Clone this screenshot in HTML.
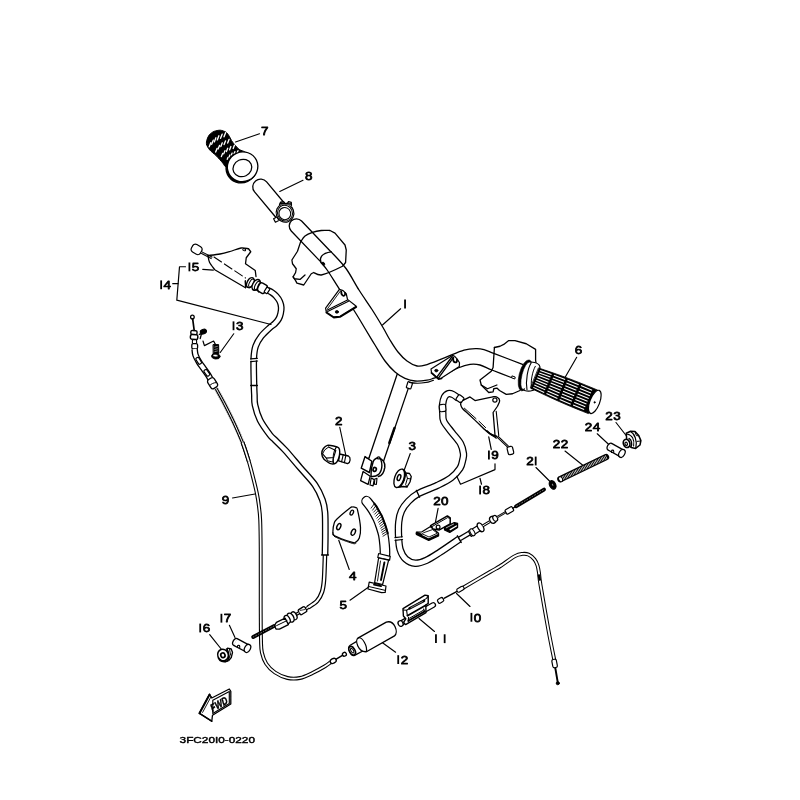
<!DOCTYPE html>
<html><head><meta charset="utf-8"><title>diagram</title>
<style>
html,body{margin:0;padding:0;background:#fff;}
svg{display:block;}
text{font-family:"Liberation Sans",sans-serif;fill:#000;}
.lb{stroke:#000;stroke-width:0.75px;}
</style></head><body>
<svg width="800" height="800" viewBox="0 0 800 800">
<rect width="800" height="800" fill="#fff"/>
<g stroke-linejoin="round" stroke-linecap="round" style="filter:url(#bl)">
<path d="M216.25,388.75 C217.5,391.04 220.83,396.88 223.75,402.5 C226.67,408.12 230.62,415.83 233.75,422.5 C236.88,429.17 240,436.04 242.5,442.5 C245,448.96 246.88,455 248.75,461.25 C250.62,467.5 252.38,474.54 253.75,480 C255.12,485.46 256.17,489.83 257,494 C257.83,498.17 258.22,500.67 258.75,505 C259.28,509.33 259.88,512.5 260.2,520 C260.52,527.5 260.62,535.83 260.7,550 C260.78,564.17 260.65,590 260.7,605 C260.75,620 260.8,632.08 261,640 C261.2,647.92 261.02,648.54 261.9,652.5 C262.77,656.46 264.07,660.42 266.25,663.75 C268.43,667.08 271.46,670.12 275,672.5 C278.54,674.88 283.33,677.08 287.5,678 C291.67,678.92 295.83,678.83 300,678 C304.17,677.17 308.33,674.96 312.5,673 C316.67,671.04 322,668.03 325,666.25 C328,664.47 329.58,662.96 330.5,662.3" fill="none" stroke="#000" stroke-width="3.9" stroke-linecap="butt"/>
<path d="M216.25,388.75 C217.5,391.04 220.83,396.88 223.75,402.5 C226.67,408.12 230.62,415.83 233.75,422.5 C236.88,429.17 240,436.04 242.5,442.5 C245,448.96 246.88,455 248.75,461.25 C250.62,467.5 252.38,474.54 253.75,480 C255.12,485.46 256.17,489.83 257,494 C257.83,498.17 258.22,500.67 258.75,505 C259.28,509.33 259.88,512.5 260.2,520 C260.52,527.5 260.62,535.83 260.7,550 C260.78,564.17 260.65,590 260.7,605 C260.75,620 260.8,632.08 261,640 C261.2,647.92 261.02,648.54 261.9,652.5 C262.77,656.46 264.07,660.42 266.25,663.75 C268.43,667.08 271.46,670.12 275,672.5 C278.54,674.88 283.33,677.08 287.5,678 C291.67,678.92 295.83,678.83 300,678 C304.17,677.17 308.33,674.96 312.5,673 C316.67,671.04 322,668.03 325,666.25 C328,664.47 329.58,662.96 330.5,662.3" fill="none" stroke="#fff" stroke-width="1.7" stroke-linecap="butt"/>
<path d="M216.25,388.75 C217.5,391.04 220.83,396.88 223.75,402.5 C226.67,408.12 230.62,415.83 233.75,422.5 C236.88,429.17 240,436.04 242.5,442.5 C245,448.96 247.71,458.12 248.75,461.25" fill="none" stroke="#000" stroke-width="3.9" stroke-linecap="butt"/>
<path d="M216.25,388.75 C217.5,391.04 220.83,396.88 223.75,402.5 C226.67,408.12 230.62,415.83 233.75,422.5 C236.88,429.17 240,436.04 242.5,442.5 C245,448.96 247.71,458.12 248.75,461.25" fill="none" stroke="#fff" stroke-width="1.7" stroke-linecap="butt"/>
<path d="M216.25,388.75 C217.5,391.04 220.83,396.88 223.75,402.5 C226.67,408.12 230.62,415.83 233.75,422.5 C236.88,429.17 241.04,439.17 242.5,442.5" fill="none" stroke="#fff" stroke-width="4.6" stroke-linecap="butt"/>
<path d="M216.25,388.75 C217.5,391.04 220.83,396.88 223.75,402.5 C226.67,408.12 230.62,415.83 233.75,422.5 C236.88,429.17 241.04,439.17 242.5,442.5" fill="none" stroke="#000" stroke-width="3.2" stroke-linecap="butt"/>
<path d="M216.25,388.75 C217.5,391.04 220.83,396.88 223.75,402.5 C226.67,408.12 230.62,415.83 233.75,422.5 C236.88,429.17 241.04,439.17 242.5,442.5" fill="none" stroke="#fff" stroke-width="1" stroke-linecap="butt"/>
<path d="M266.9,290 C267.75,290.43 270.44,291.56 272,292.6 C273.56,293.64 274.95,294.77 276.25,296.25 C277.55,297.73 278.97,299.62 279.8,301.5 C280.63,303.38 281.12,305.5 281.25,307.5 C281.38,309.5 281.02,311.62 280.6,313.5 C280.18,315.38 279.68,317.08 278.75,318.75 C277.82,320.42 276.46,322.04 275,323.5 C273.54,324.96 272.29,325.38 270,327.5 C267.71,329.62 263.65,333.12 261.25,336.25 C258.85,339.38 256.85,342.5 255.6,346.25 C254.35,350 254.02,352.29 253.75,358.75 C253.48,365.21 253.89,378.96 254,385 C254.11,391.04 254.23,391.67 254.4,395 C254.57,398.33 254.07,400.83 255,405 C255.93,409.17 257.5,415 260,420 C262.5,425 267.5,431.67 270,435 C272.5,438.33 272.5,437.5 275,440 C277.5,442.5 280.83,445.42 285,450 C289.17,454.58 295,461.67 300,467.5 C305,473.33 311.25,479.58 315,485 C318.75,490.42 320.83,495.42 322.5,500 C324.17,504.58 324.53,506.67 325,512.5 C325.47,518.33 325.3,527.92 325.3,535 C325.3,542.08 325.05,551.67 325,555" fill="none" stroke="#000" stroke-width="6.8" stroke-linecap="butt"/>
<path d="M266.9,290 C267.75,290.43 270.44,291.56 272,292.6 C273.56,293.64 274.95,294.77 276.25,296.25 C277.55,297.73 278.97,299.62 279.8,301.5 C280.63,303.38 281.12,305.5 281.25,307.5 C281.38,309.5 281.02,311.62 280.6,313.5 C280.18,315.38 279.68,317.08 278.75,318.75 C277.82,320.42 276.46,322.04 275,323.5 C273.54,324.96 272.29,325.38 270,327.5 C267.71,329.62 263.65,333.12 261.25,336.25 C258.85,339.38 256.85,342.5 255.6,346.25 C254.35,350 254.02,352.29 253.75,358.75 C253.48,365.21 253.89,378.96 254,385 C254.11,391.04 254.23,391.67 254.4,395 C254.57,398.33 254.07,400.83 255,405 C255.93,409.17 257.5,415 260,420 C262.5,425 267.5,431.67 270,435 C272.5,438.33 272.5,437.5 275,440 C277.5,442.5 280.83,445.42 285,450 C289.17,454.58 295,461.67 300,467.5 C305,473.33 311.25,479.58 315,485 C318.75,490.42 320.83,495.42 322.5,500 C324.17,504.58 324.53,506.67 325,512.5 C325.47,518.33 325.3,527.92 325.3,535 C325.3,542.08 325.05,551.67 325,555" fill="none" stroke="#fff" stroke-width="4.2" stroke-linecap="butt"/>
<path d="M250,360.2 L258,359.6" fill="none" stroke="#fff" stroke-width="1.3" />
<line x1="250.6" y1="358.9" x2="257.4" y2="358.4" stroke="#000" stroke-width="1.1"/>
<line x1="250.8" y1="361.6" x2="257.6" y2="361" stroke="#000" stroke-width="1.1"/>
<line x1="250.7" y1="385.5" x2="257.4" y2="385.5" stroke="#000" stroke-width="1.3"/>
<path d="M325,555 C324.83,559.17 324.5,573.83 324,580 C323.5,586.17 323.17,588.5 322,592 C320.83,595.5 319.33,598.42 317,601 C314.67,603.58 309.5,606.42 308,607.5" fill="none" stroke="#000" stroke-width="4.6" stroke-linecap="butt"/>
<path d="M325,555 C324.83,559.17 324.5,573.83 324,580 C323.5,586.17 323.17,588.5 322,592 C320.83,595.5 319.33,598.42 317,601 C314.67,603.58 309.5,606.42 308,607.5" fill="none" stroke="#fff" stroke-width="2.2" stroke-linecap="butt"/>
<line x1="321.6" y1="555" x2="328.4" y2="555" stroke="#000" stroke-width="1.4"/>
<path d="M458.5,398.3 C457.58,397.67 454.67,395.28 453,394.5 C451.33,393.72 449.92,393.18 448.5,393.6 C447.08,394.02 445.5,395.1 444.5,397 C443.5,398.9 442.78,402.33 442.5,405 C442.22,407.67 442.59,410.29 442.8,413 C443.01,415.71 442.23,418 443.75,421.25 C445.27,424.5 449.09,428.75 451.9,432.5 C454.71,436.25 458.67,440.21 460.6,443.75 C462.53,447.29 463.15,451.04 463.5,453.75 C463.85,456.46 463.28,457.58 462.7,460 C462.12,462.42 461.95,465.27 460,468.25 C458.05,471.23 454.78,475.04 451,477.9 C447.22,480.76 442.8,482.77 437.3,485.4 C431.8,488.03 422.82,491.05 418,493.7 C413.18,496.35 411.15,498.43 408.4,501.3 C405.65,504.17 403.11,507.47 401.5,510.9 C399.89,514.33 399.23,517.55 398.75,521.9 C398.27,526.25 398.38,532.42 398.6,537 C398.83,541.58 398.93,545.73 400.1,549.4 C401.27,553.07 403.08,556.7 405.6,559 C408.12,561.3 411.81,562.97 415.25,563.2 C418.69,563.43 422.12,562.23 426.25,560.4 C430.38,558.57 434.5,555.75 440,552.2 C445.5,548.65 456.04,541.28 459.25,539.1" fill="none" stroke="#000" stroke-width="7.4" stroke-linecap="butt"/>
<path d="M458.5,398.3 C457.58,397.67 454.67,395.28 453,394.5 C451.33,393.72 449.92,393.18 448.5,393.6 C447.08,394.02 445.5,395.1 444.5,397 C443.5,398.9 442.78,402.33 442.5,405 C442.22,407.67 442.59,410.29 442.8,413 C443.01,415.71 442.23,418 443.75,421.25 C445.27,424.5 449.09,428.75 451.9,432.5 C454.71,436.25 458.67,440.21 460.6,443.75 C462.53,447.29 463.15,451.04 463.5,453.75 C463.85,456.46 463.28,457.58 462.7,460 C462.12,462.42 461.95,465.27 460,468.25 C458.05,471.23 454.78,475.04 451,477.9 C447.22,480.76 442.8,482.77 437.3,485.4 C431.8,488.03 422.82,491.05 418,493.7 C413.18,496.35 411.15,498.43 408.4,501.3 C405.65,504.17 403.11,507.47 401.5,510.9 C399.89,514.33 399.23,517.55 398.75,521.9 C398.27,526.25 398.38,532.42 398.6,537 C398.83,541.58 398.93,545.73 400.1,549.4 C401.27,553.07 403.08,556.7 405.6,559 C408.12,561.3 411.81,562.97 415.25,563.2 C418.69,563.43 422.12,562.23 426.25,560.4 C430.38,558.57 434.5,555.75 440,552.2 C445.5,548.65 456.04,541.28 459.25,539.1" fill="none" stroke="#fff" stroke-width="4.9" stroke-linecap="butt"/>
<line x1="416.4" y1="490.4" x2="419.6" y2="497.2" stroke="#000" stroke-width="1.3"/>
<path d="M394,539 L403.4,538" fill="none" stroke="#fff" stroke-width="1.5" />
<line x1="394.9" y1="537.6" x2="402.4" y2="536.8" stroke="#000" stroke-width="1.1"/>
<line x1="395" y1="540.4" x2="402.6" y2="539.5" stroke="#000" stroke-width="1.1"/>
<path d="M461,589 C465.83,586.17 483.5,575.79 490,572 C496.5,568.21 495.83,568.9 500,566.25 C504.17,563.6 511.25,558.16 515,556.1 C518.75,554.04 520.25,554.15 522.5,553.9 C524.75,553.65 526.5,553.67 528.5,554.6 C530.5,555.53 533,557.68 534.5,559.5 C536,561.32 536.75,563.25 537.5,565.5 C538.25,567.75 538.5,569.75 539,573 C539.5,576.25 538.93,575.5 540.5,585 C542.07,594.5 546.15,617.75 548.4,630 C550.65,642.25 552.97,653.33 554,658.5 C555.03,663.67 554.5,660.58 554.6,661" fill="none" stroke="#000" stroke-width="3.9" stroke-linecap="butt"/>
<path d="M461,589 C465.83,586.17 483.5,575.79 490,572 C496.5,568.21 495.83,568.9 500,566.25 C504.17,563.6 511.25,558.16 515,556.1 C518.75,554.04 520.25,554.15 522.5,553.9 C524.75,553.65 526.5,553.67 528.5,554.6 C530.5,555.53 533,557.68 534.5,559.5 C536,561.32 536.75,563.25 537.5,565.5 C538.25,567.75 538.5,569.75 539,573 C539.5,576.25 538.93,575.5 540.5,585 C542.07,594.5 546.15,617.75 548.4,630 C550.65,642.25 552.97,653.33 554,658.5 C555.03,663.67 554.5,660.58 554.6,661" fill="none" stroke="#fff" stroke-width="1.8" stroke-linecap="butt"/>
<path d="M296.4,226 L325.2,256.2" fill="none" stroke="#000" stroke-width="15.6" stroke-linecap="round"/>
<path d="M296.4,226 L325.2,256.2" fill="none" stroke="#fff" stroke-width="13" stroke-linecap="round"/>
<line x1="397.4" y1="373.5" x2="368.3" y2="460" stroke="#000" stroke-width="1.3"/>
<line x1="408.2" y1="388.6" x2="383.1" y2="462.5" stroke="#000" stroke-width="1.3"/>
<line x1="394.5" y1="428" x2="389.3" y2="443" stroke="#000" stroke-width="2.4"/>
<path d="M321,262.5 C319.2,258.6 321,253.2 331.25,251.9 C333.71,254.67 341.38,262.15 346,268.5 C350.62,274.85 354.67,283.17 359,290 C363.33,296.83 368,303.25 372,309.5 C376,315.75 380,322.42 383,327.5 C386,332.58 387.5,335.92 390,340 C392.5,344.08 395.17,348.5 398,352 C400.83,355.5 403.83,358.67 407,361 C410.17,363.33 414,365.3 417,366 C420,366.7 420.33,366.6 425,365.2 C429.67,363.8 438.5,360.1 445,357.6 C451.5,355.1 458.83,351.7 464,350.2 C469.17,348.7 472.67,348.7 476,348.6 C479.33,348.5 480.93,348.77 484,349.6 C487.07,350.43 487.98,351.13 494.4,353.6 C500.82,356.07 517.82,362.6 522.5,364.4 L511.25,377.5  C508.02,376.25 497.11,372.08 491.9,370 C486.69,367.92 483.65,365.93 480,365 C476.35,364.07 473.67,363.9 470,364.4 C466.33,364.9 462.17,366.3 458,368 C453.83,369.7 449,372.9 445,374.6 C441,376.3 437,377.27 434,378.2 C431,379.13 430.17,379.73 427,380.2 C423.83,380.67 418.67,381.32 415,381 C411.33,380.68 408.33,379.8 405,378.3 C401.67,376.8 398.33,374.88 395,372 C391.67,369.12 388.33,365.5 385,361 C381.67,356.5 378.33,350.42 375,345 C371.67,339.58 368.54,334.33 365,328.5 C361.46,322.67 357.92,316.42 353.75,310 C349.58,303.58 344.38,296.58 340,290 C335.62,283.42 330.67,275.08 327.5,270.5 C324.33,265.92 322.08,263.83 321,262.5Z" fill="#fff" stroke="none"/>
<path d="M331.25,251.9 C333.71,254.67 341.38,262.15 346,268.5 C350.62,274.85 354.67,283.17 359,290 C363.33,296.83 368,303.25 372,309.5 C376,315.75 380,322.42 383,327.5 C386,332.58 387.5,335.92 390,340 C392.5,344.08 395.17,348.5 398,352 C400.83,355.5 403.83,358.67 407,361 C410.17,363.33 414,365.3 417,366 C420,366.7 420.33,366.6 425,365.2 C429.67,363.8 438.5,360.1 445,357.6 C451.5,355.1 458.83,351.7 464,350.2 C469.17,348.7 472.67,348.7 476,348.6 C479.33,348.5 480.93,348.77 484,349.6 C487.07,350.43 487.98,351.13 494.4,353.6 C500.82,356.07 517.82,362.6 522.5,364.4" fill="none" stroke="#000" stroke-width="1.3" />
<path d="M321,262.5 C322.08,263.83 324.33,265.92 327.5,270.5 C330.67,275.08 335.62,283.42 340,290 C344.38,296.58 349.58,303.58 353.75,310 C357.92,316.42 361.46,322.67 365,328.5 C368.54,334.33 371.67,339.58 375,345 C378.33,350.42 381.67,356.5 385,361 C388.33,365.5 391.67,369.12 395,372 C398.33,374.88 401.67,376.8 405,378.3 C408.33,379.8 411.33,380.68 415,381 C418.67,381.32 423.83,380.67 427,380.2 C430.17,379.73 431,379.13 434,378.2 C437,377.27 441,376.3 445,374.6 C449,372.9 453.83,369.7 458,368 C462.17,366.3 466.33,364.9 470,364.4 C473.67,363.9 476.35,364.07 480,365 C483.65,365.93 486.69,367.92 491.9,370 C497.11,372.08 508.02,376.25 511.25,377.5" fill="none" stroke="#000" stroke-width="1.3" />
<path d="M321,262.5 C319.2,258.6 321,253.2 331.25,251.9" fill="none" stroke="#000" stroke-width="1.3" />
<rect x="-2.4" y="-3.2" width="4.8" height="6.4" rx="0.8" transform="translate(409.4,385.3) rotate(18)" fill="#fff" stroke="#000" stroke-width="1.2"/>
<path d="M409.5,382.4 C416,383.9 427,383.4 433.5,380.2" fill="none" stroke="#000" stroke-width="1.1" />
<path d="M300.6,241.9 C301.33,240.92 303.02,237.6 305,236 C306.98,234.4 309.79,233.22 312.5,232.3 C315.21,231.38 318.33,230.8 321.25,230.5 C324.17,230.2 328.54,230.5 330,230.5 L335,233.1 L345,245 L346.25,250 L345.6,262.5 L342.5,266.25 C338,268.5 328,273.5 321.25,275 C318,275.2 315.5,273.5 313.75,272.5 L311.25,273.75 L303.75,285 L296.9,283.1 L295.6,280.6 L293.1,276.9" fill="none" stroke="#000" stroke-width="1.3" />
<path d="M300.6,241.9 L297.5,251.25 L291.9,260 L292.5,263.75 L296.25,268.75 L295.6,272.5 L293.1,276.9 L294.4,278.75 L300,279.4 L305,275" fill="none" stroke="#000" stroke-width="1.3" />
<ellipse cx="323.3" cy="263.8" rx="1.2" ry="1.8" transform="rotate(-35 323.3 263.8)" fill="#000" stroke="#000" stroke-width="0.8"/>
<path d="M339.4,289.4 L325.6,308.1 L326.25,311.9 L333.75,316.9 L340,316.25 L356.25,306.25 L347.5,299.4 L346.25,293.75 L343.1,290.6Z" fill="#fff" stroke="#000" stroke-width="1.2" />
<path d="M326.9,310.2 L347.5,300" fill="none" stroke="#000" stroke-width="1.2" />
<path d="M327.6,311.6 L348.5,301.3" fill="none" stroke="#000" stroke-width="1.1" />
<path d="M340.6,290.8 L327.6,308.6" fill="none" stroke="#000" stroke-width="0.9" />
<path d="M326.25,312.6 L333.75,317.6 L340,317 L356.4,307" fill="none" stroke="#000" stroke-width="1.6" />
<ellipse cx="336.9" cy="311.9" rx="1.6" ry="1.3" transform="rotate(0 336.9 311.9)" fill="#000" stroke="#000" stroke-width="0.8"/>
<path d="M341.2,291.6 C341.2,297 346,297 345,292.8" fill="none" stroke="#000" stroke-width="1.8" />
<path d="M452.7,355.2 L431,369 L431.5,372.5 L438.5,378.6 L441.5,378 L459.3,366.5 L459.5,362.8 L457,358.8 L454.5,356.2Z" fill="#fff" stroke="#000" stroke-width="1.2" />
<path d="M436.8,377.2 L452.2,356.5" fill="none" stroke="#000" stroke-width="1.35" />
<path d="M438.4,378.1 L453.6,357.4" fill="none" stroke="#000" stroke-width="1.35" />
<ellipse cx="436.3" cy="370.6" rx="1.6" ry="1.3" transform="rotate(0 436.3 370.6)" fill="#000" stroke="#000" stroke-width="0.8"/>
<path d="M453.2,357.6 C452.6,363.6 457.6,363.6 457,359.6" fill="none" stroke="#000" stroke-width="1.9" />
<path d="M431.3,373 L438.5,379.2 L441.7,378.6" fill="none" stroke="#000" stroke-width="1.5" />
<path d="M494.4,347.5 L500,346.25 L503.75,344.4 L508.75,340.6 L515,340.6 L526.25,343.75 L535.6,349.4 L535.6,360 L536.25,365" fill="none" stroke="#000" stroke-width="1.3" />
<path d="M494.4,347.5 L493.1,367.5 L491.25,371.25 L480,380 L481.25,385 L488.75,392.5 L493.1,391.9 L493.75,388.75 L496.9,388.1 L499.5,390.5 L506.25,394.4 L512.5,393.75 L520,390.5" fill="none" stroke="#000" stroke-width="1.3" />
<path d="M481.25,385 L487.5,388.75 L496.9,385" fill="none" stroke="#000" stroke-width="1.3" />
<path d="M512.3,376 L515.2,377 L514.8,379 L512,378Z" fill="none" stroke="#000" stroke-width="1" />
<ellipse cx="525.4" cy="375.4" rx="6.3" ry="15.9" transform="rotate(14 525.4 375.4)" fill="#000" stroke="#000" stroke-width="0.6"/>
<ellipse cx="526.4" cy="375.7" rx="4.5" ry="14" transform="rotate(14 526.4 375.7)" fill="#fff" stroke="#000" stroke-width="0.5"/>
<path d="M531,362 C536,362.3 539.5,364 540,367 L535,388.5 C533.5,391.5 528,391.5 524.5,390.5" fill="#fff" stroke="#000" stroke-width="1.2" />
<path d="M531.3,362.8 C527.8,368 525.3,381 527,389.8" fill="none" stroke="#000" stroke-width="1.1" />
<path d="M535.3,366.3 C532.3,371.5 530.3,382 531.6,388.8" fill="none" stroke="#000" stroke-width="1" />
<path d="M538.79,368.05 L544.78,370.07 L550.76,372.1 L556.73,374.17 L562.67,376.29 L568.59,378.47 L574.49,380.72 L580.36,383.02 L586.21,385.38 L592.04,387.77 L597.87,390.19 L599.4,396 L596,408 L588.33,413.61 L582.48,411.27 L576.63,408.9 L570.8,406.5 L564.99,404.04 L559.21,401.53 L553.45,398.95 L547.71,396.31 L542,393.62 L536.3,390.89 L530.61,388.15Z" fill="#000" stroke="#000" stroke-width="0.8" />
<path d="M540.18,370.49 L551.5,374.46" fill="none" stroke="#fff" stroke-width="1.08" stroke-linecap="butt"/>
<path d="M539.2,372.9 L550.46,377.03" fill="none" stroke="#fff" stroke-width="1.08" stroke-linecap="butt"/>
<path d="M538.22,375.31 L549.41,379.59" fill="none" stroke="#fff" stroke-width="1.08" stroke-linecap="butt"/>
<path d="M537.24,377.72 L548.37,382.16" fill="none" stroke="#fff" stroke-width="1.08" stroke-linecap="butt"/>
<path d="M536.26,380.13 L547.32,384.73" fill="none" stroke="#fff" stroke-width="1.08" stroke-linecap="butt"/>
<path d="M535.27,382.55 L546.27,387.3" fill="none" stroke="#fff" stroke-width="1.08" stroke-linecap="butt"/>
<path d="M534.29,384.96 L545.23,389.87" fill="none" stroke="#fff" stroke-width="1.08" stroke-linecap="butt"/>
<path d="M533.31,387.37 L544.18,392.44" fill="none" stroke="#fff" stroke-width="1.08" stroke-linecap="butt"/>
<path d="M553.88,375.3 L565.14,379.43" fill="none" stroke="#fff" stroke-width="1.08" stroke-linecap="butt"/>
<path d="M552.82,377.9 L564.04,382.14" fill="none" stroke="#fff" stroke-width="1.08" stroke-linecap="butt"/>
<path d="M551.77,380.5 L562.93,384.85" fill="none" stroke="#fff" stroke-width="1.08" stroke-linecap="butt"/>
<path d="M550.71,383.1 L561.83,387.57" fill="none" stroke="#fff" stroke-width="1.08" stroke-linecap="butt"/>
<path d="M549.65,385.7 L560.72,390.28" fill="none" stroke="#fff" stroke-width="1.08" stroke-linecap="butt"/>
<path d="M548.59,388.3 L559.62,392.99" fill="none" stroke="#fff" stroke-width="1.08" stroke-linecap="butt"/>
<path d="M547.53,390.9 L558.51,395.71" fill="none" stroke="#fff" stroke-width="1.08" stroke-linecap="butt"/>
<path d="M546.47,393.5 L557.41,398.42" fill="none" stroke="#fff" stroke-width="1.08" stroke-linecap="butt"/>
<path d="M567.5,380.32 L578.67,384.67" fill="none" stroke="#fff" stroke-width="1.08" stroke-linecap="butt"/>
<path d="M566.39,383.05 L577.54,387.45" fill="none" stroke="#fff" stroke-width="1.08" stroke-linecap="butt"/>
<path d="M565.28,385.78 L576.4,390.23" fill="none" stroke="#fff" stroke-width="1.08" stroke-linecap="butt"/>
<path d="M564.17,388.51 L575.27,393.01" fill="none" stroke="#fff" stroke-width="1.08" stroke-linecap="butt"/>
<path d="M563.05,391.24 L574.14,395.79" fill="none" stroke="#fff" stroke-width="1.08" stroke-linecap="butt"/>
<path d="M561.94,393.97 L573.01,398.57" fill="none" stroke="#fff" stroke-width="1.08" stroke-linecap="butt"/>
<path d="M560.83,396.7 L571.88,401.35" fill="none" stroke="#fff" stroke-width="1.08" stroke-linecap="butt"/>
<path d="M559.72,399.43 L570.74,404.13" fill="none" stroke="#fff" stroke-width="1.08" stroke-linecap="butt"/>
<path d="M581.01,385.6 L592.1,390.13" fill="none" stroke="#fff" stroke-width="1.08" stroke-linecap="butt"/>
<path d="M579.88,388.39 L590.97,392.91" fill="none" stroke="#fff" stroke-width="1.08" stroke-linecap="butt"/>
<path d="M578.74,391.17 L589.84,395.7" fill="none" stroke="#fff" stroke-width="1.08" stroke-linecap="butt"/>
<path d="M577.61,393.96 L588.7,398.48" fill="none" stroke="#fff" stroke-width="1.08" stroke-linecap="butt"/>
<path d="M576.48,396.74 L587.57,401.26" fill="none" stroke="#fff" stroke-width="1.08" stroke-linecap="butt"/>
<path d="M575.34,399.53 L586.44,404.05" fill="none" stroke="#fff" stroke-width="1.08" stroke-linecap="butt"/>
<path d="M574.21,402.31 L585.31,406.83" fill="none" stroke="#fff" stroke-width="1.08" stroke-linecap="butt"/>
<path d="M573.07,405.09 L584.17,409.61" fill="none" stroke="#fff" stroke-width="1.08" stroke-linecap="butt"/>
<ellipse cx="594.8" cy="401.9" rx="4.9" ry="12.3" transform="rotate(21 594.8 401.9)" fill="#fff" stroke="#000" stroke-width="1.2"/>
<ellipse cx="594.6" cy="402.3" rx="0.7" ry="0.9" transform="rotate(0 594.6 402.3)" fill="#000" stroke="#000" stroke-width="0.5"/>
<path d="M206.5,144.4 C206.11,142.9 206.57,140.9 207,139.5 C207.43,138.1 208.5,135.76 209.5,134.6 C210.5,133.44 212.46,132.03 214,131.4 C215.54,130.77 218.59,130.09 220.3,130.2 C222.01,130.31 224.71,131.34 226,132.2 C227.29,133.06 228.37,134.85 229.3,136.25 C230.23,137.65 231.11,140.14 232.5,142 C233.89,143.86 237.07,147.59 239,149.3 C240.93,151.01 246.43,151.04 246,154 C245.57,156.96 238.86,168.14 236,170 C233.14,171.86 227.89,168 226,167 C224.11,166 224.14,164.6 222.75,163 C221.36,161.4 218.11,157.66 216.25,155.8 C214.39,153.94 211.14,151.63 209.75,150 C208.36,148.37 206.89,145.9 206.5,144.4Z" fill="#000" stroke="#000" stroke-width="1" />
<path d="M209.21,146.85 L210.79,142.75" fill="none" stroke="#fff" stroke-width="1.35" stroke-linecap="round"/>
<path d="M211.67,144.27 L213.26,140.17" fill="none" stroke="#fff" stroke-width="1.35" stroke-linecap="round"/>
<path d="M214.32,141.91 L215.91,137.81" fill="none" stroke="#fff" stroke-width="1.35" stroke-linecap="round"/>
<path d="M217.28,139.91 L218.87,135.81" fill="none" stroke="#fff" stroke-width="1.35" stroke-linecap="round"/>
<path d="M220.55,138.27 L222.14,134.17" fill="none" stroke="#fff" stroke-width="1.35" stroke-linecap="round"/>
<path d="M224.01,136.85 L225.59,132.75" fill="none" stroke="#fff" stroke-width="1.35" stroke-linecap="round"/>
<path d="M215.68,152.06 L217.12,148.34" fill="none" stroke="#fff" stroke-width="1.35" stroke-linecap="round"/>
<path d="M218.08,149.11 L219.52,145.39" fill="none" stroke="#fff" stroke-width="1.35" stroke-linecap="round"/>
<path d="M220.84,146.57 L222.28,142.85" fill="none" stroke="#fff" stroke-width="1.35" stroke-linecap="round"/>
<path d="M224.08,144.61 L225.52,140.89" fill="none" stroke="#fff" stroke-width="1.35" stroke-linecap="round"/>
<path d="M227.68,143.06 L229.12,139.34" fill="none" stroke="#fff" stroke-width="1.35" stroke-linecap="round"/>
<path d="M221.37,156.63 L222.63,153.37" fill="none" stroke="#fff" stroke-width="1.35" stroke-linecap="round"/>
<path d="M223.72,153.88 L224.98,150.62" fill="none" stroke="#fff" stroke-width="1.35" stroke-linecap="round"/>
<path d="M226.43,151.54 L227.69,148.28" fill="none" stroke="#fff" stroke-width="1.35" stroke-linecap="round"/>
<path d="M229.62,149.78 L230.88,146.52" fill="none" stroke="#fff" stroke-width="1.35" stroke-linecap="round"/>
<path d="M233.17,148.43 L234.43,145.17" fill="none" stroke="#fff" stroke-width="1.35" stroke-linecap="round"/>
<path d="M227.24,159.33 L227.96,157.47" fill="none" stroke="#fff" stroke-width="1.35" stroke-linecap="round"/>
<path d="M229.14,156.93 L229.86,155.07" fill="none" stroke="#fff" stroke-width="1.35" stroke-linecap="round"/>
<path d="M231.39,154.94 L232.12,153.08" fill="none" stroke="#fff" stroke-width="1.35" stroke-linecap="round"/>
<path d="M234.14,153.53 L234.86,151.67" fill="none" stroke="#fff" stroke-width="1.35" stroke-linecap="round"/>
<path d="M237.24,152.53 L237.96,150.67" fill="none" stroke="#fff" stroke-width="1.35" stroke-linecap="round"/>
<ellipse cx="241.4" cy="167.9" rx="15.4" ry="14.9" transform="rotate(-25 241.4 167.9)" fill="#000" stroke="#000" stroke-width="1.3"/>
<ellipse cx="242.6" cy="166.8" rx="15.3" ry="14.8" transform="rotate(-25 242.6 166.8)" fill="#fff" stroke="#000" stroke-width="1.3"/>
<ellipse cx="242.4" cy="168" rx="9.6" ry="8.5" transform="rotate(-25 242.4 168)" fill="none" stroke="#000" stroke-width="1.25"/>
<path d="M260.6,186.9 L282,212.5" fill="none" stroke="#000" stroke-width="17" stroke-linecap="round"/>
<path d="M260.6,186.9 L282,212.5" fill="none" stroke="#fff" stroke-width="14.4" stroke-linecap="round"/>
<ellipse cx="285" cy="213" rx="8.8" ry="9.3" transform="rotate(-20 285 213)" fill="#fff" stroke="#000" stroke-width="1.2"/>
<ellipse cx="285" cy="213.1" rx="7.4" ry="8" transform="rotate(-20 285 213.1)" fill="none" stroke="#000" stroke-width="1"/>
<ellipse cx="284.8" cy="213.6" rx="5.9" ry="6.1" transform="rotate(-20 284.8 213.6)" fill="#fff" stroke="#000" stroke-width="1.1"/>
<path d="M279.6,204.6 L280.6,202.2 L283.5,201.8 L285,203.6 L287.6,203.2 L288.6,201.6 L291.2,202.4 L291.4,205.4" fill="#fff" stroke="#000" stroke-width="1.4" />
<line x1="280.6" y1="203.6" x2="290.8" y2="204" stroke="#000" stroke-width="1.6"/>
<path d="M276.3,217.2 L273.6,218.8 L275.4,222.2 L278.4,220.8" fill="#fff" stroke="#000" stroke-width="1.2" />
<rect x="-5.2" y="-4.3" width="10.4" height="8.6" rx="3" transform="translate(196.6,249.4) rotate(30)" fill="#fff" stroke="#000" stroke-width="1.2"/>
<path d="M201,252.3 L212,258" fill="none" stroke="#000" stroke-width="2.6" stroke-linecap="butt"/>
<path d="M201,252.3 L212,258" fill="none" stroke="#fff" stroke-width="0.6" stroke-linecap="butt"/>
<path d="M208,255.5 C210,255.25 216.33,254.67 220,254 C223.67,253.33 226.5,252.5 230,251.5 C233.5,250.5 237.92,248.46 241,248 C244.08,247.54 247.25,248.62 248.5,248.75 L250.75,251.75 L246.25,257.75 L245.5,263.75 L255.25,270.5 L256,276.5" fill="none" stroke="#000" stroke-width="1.3" />
<path d="M208,255.5 C208.25,256.62 208.38,259.88 209.5,262.25 C210.62,264.62 213.88,268.5 214.75,269.75 L245.5,287.75" fill="none" stroke="#000" stroke-width="1.3" />
<path d="M245.5,287.75 L245.3,281" fill="none" stroke="#000" stroke-width="1.1" />
<path d="M214,257 L245.5,278" fill="none" stroke="#000" stroke-width="1.1" stroke-dasharray="9 3.5"/>
<ellipse cx="244.2" cy="249.7" rx="1.5" ry="1" transform="rotate(20 244.2 249.7)" fill="none" stroke="#000" stroke-width="1"/>
<path d="M245.3,280.6 L245.6,286.6 L249.6,287.6" fill="none" stroke="#000" stroke-width="1.2" />
<ellipse cx="250.4" cy="282.6" rx="3.2" ry="5.4" transform="rotate(28 250.4 282.6)" fill="#fff" stroke="#000" stroke-width="1.4"/>
<ellipse cx="251.6" cy="283.2" rx="2.2" ry="4.4" transform="rotate(28 251.6 283.2)" fill="none" stroke="#000" stroke-width="1"/>
<ellipse cx="256.2" cy="284.9" rx="3.5" ry="5.8" transform="rotate(28 256.2 284.9)" fill="#fff" stroke="#000" stroke-width="1.5"/>
<ellipse cx="257.6" cy="285.6" rx="2.4" ry="4.8" transform="rotate(28 257.6 285.6)" fill="none" stroke="#000" stroke-width="1.1"/>
<rect x="-4.2" y="-4.6" width="8.4" height="9.2" rx="2.2" transform="translate(262.2,288.2) rotate(30)" fill="#fff" stroke="#000" stroke-width="1.4"/>
<path d="M259.6,283 C257.6,285.6 257.2,289.4 258.6,292" fill="none" stroke="#000" stroke-width="1.2" />
<rect x="-1.8" y="-2.9" width="3.6" height="5.8" rx="0.8" transform="translate(267,290.4) rotate(32)" fill="#fff" stroke="#000" stroke-width="1.2"/>
<path d="M185.5,266.75 L179.5,266.75 L176.8,300.2 L271,324.5" fill="none" stroke="#000" stroke-width="1.2" />
<line x1="172.75" y1="283.7" x2="178" y2="283.7" stroke="#000" stroke-width="1.2"/>
<line x1="202.75" y1="269.3" x2="213.25" y2="270.2" stroke="#000" stroke-width="1.2"/>
<ellipse cx="192.4" cy="317.1" rx="1.8" ry="1.9" transform="rotate(0 192.4 317.1)" fill="#fff" stroke="#000" stroke-width="1.3"/>
<line x1="192.7" y1="319.2" x2="194.2" y2="330.5" stroke="#000" stroke-width="1.7"/>
<rect x="190.9" y="330.6" width="6.2" height="4" rx="1.4" transform="rotate(6 194 332)" fill="#fff" stroke="#000" stroke-width="1.4"/>
<rect x="190.4" y="334.6" width="7.4" height="4.8" rx="1.6" transform="rotate(6 194 337)" fill="#fff" stroke="#000" stroke-width="1.5"/>
<ellipse cx="203.4" cy="331.6" rx="3.2" ry="2.3" transform="rotate(-20 203.4 331.6)" fill="#000" stroke="#000" stroke-width="1"/>
<path d="M199.4,334.4 L201.6,333.4 L200.2,338.6" fill="none" stroke="#000" stroke-width="1.3" />
<rect x="192.4" y="339.6" width="4.2" height="4" rx="0.8" fill="#fff" stroke="#000" stroke-width="1.1"/>
<rect x="191.8" y="343.6" width="5.8" height="5.2" rx="1.4" fill="#fff" stroke="#000" stroke-width="1.3"/>
<path d="M194.6,349 C194.75,350 194.77,352.83 195.5,355 C196.23,357.17 197.67,359.77 199,362 C200.33,364.23 202,366.27 203.5,368.4 C205,370.53 206.72,372.78 208,374.8 C209.28,376.82 210.67,379.55 211.2,380.5" fill="none" stroke="#000" stroke-width="6.6" stroke-linecap="butt"/>
<path d="M194.6,349 C194.75,350 194.77,352.83 195.5,355 C196.23,357.17 197.67,359.77 199,362 C200.33,364.23 202,366.27 203.5,368.4 C205,370.53 206.72,372.78 208,374.8 C209.28,376.82 210.67,379.55 211.2,380.5" fill="none" stroke="#fff" stroke-width="4" stroke-linecap="butt"/>
<rect x="197" y="357.3" width="3.4" height="7.0" rx="1.2" transform="rotate(-32 198.7 360.8)" fill="#fff" stroke="#000" stroke-width="1.2"/>
<rect x="205.1" y="369.3" width="3.4" height="7.0" rx="1.2" transform="rotate(-35 206.8 372.8)" fill="#fff" stroke="#000" stroke-width="1.2"/>
<rect x="-5.2" y="-3.8" width="10.4" height="7.6" rx="2.4" transform="translate(212.6,383.2) rotate(58)" fill="#fff" stroke="#000" stroke-width="1.3"/>
<path d="M209.6,385.6 C211,384 213.6,382.6 216,382.6" fill="none" stroke="#000" stroke-width="1" />
<path d="M203,341 L204.4,345.6 L213.6,341 L215.4,344.4" fill="none" stroke="#000" stroke-width="1.2" />
<path d="M213.4,344.6 L218.6,344.6 L218.8,353.6 L213.6,353.6Z" fill="#000" stroke="#000" stroke-width="1" />
<path d="M214.8,347 L217.4,346.4" fill="none" stroke="#fff" stroke-width="0.5" />
<path d="M214.8,349.4 L217.4,348.8" fill="none" stroke="#fff" stroke-width="0.5" />
<path d="M214.8,351.6 L217.4,351" fill="none" stroke="#fff" stroke-width="0.5" />
<ellipse cx="215.8" cy="356.2" rx="4.2" ry="2.8" transform="rotate(8 215.8 356.2)" fill="#000" stroke="#000" stroke-width="0.9"/>
<ellipse cx="215.5" cy="355.6" rx="2.6" ry="1.1" transform="rotate(8 215.5 355.6)" fill="#fff" stroke="#000" stroke-width="0.4"/>
<rect x="-3.3" y="-3.1" width="6.6" height="6.2" rx="1.3" transform="translate(460,398.8) rotate(35)" fill="#fff" stroke="#000" stroke-width="1.2"/>
<rect x="-3.2" y="-3.6" width="6.4" height="7.2" rx="1.6" transform="translate(442.6,408) rotate(-5)" fill="#fff" stroke="#000" stroke-width="1.2"/>
<path d="M463,400.3 L470,396.9 L475,400.6 L491.5,397.2 C496,395.5 500.5,398 499.4,401.9 L497.5,406.25 L493.1,412.5 L495,435" fill="none" stroke="#000" stroke-width="1.3" />
<path d="M496.2,411.2 L498.75,435.6" fill="none" stroke="#000" stroke-width="1.1" />
<ellipse cx="494.9" cy="400.1" rx="2.1" ry="2.1" transform="rotate(0 494.9 400.1)" fill="#fff" stroke="#000" stroke-width="1.2"/>
<path d="M460.6,404.4 C460.92,405.08 460.93,406.65 462.5,408.5 C464.07,410.35 467.08,412.75 470,415.5 C472.92,418.25 477,422.17 480,425 C483,427.83 485.29,430.32 488,432.5 C490.71,434.68 494.88,437.17 496.25,438.1" fill="none" stroke="#000" stroke-width="1.3" />
<path d="M464.4,408.2 L476,418.6" fill="none" stroke="#000" stroke-width="1" />
<path d="M479,421.2 L485.6,427.6" fill="none" stroke="#000" stroke-width="1" />
<path d="M483,428.4 L494.5,436.2" fill="none" stroke="#000" stroke-width="1" />
<path d="M487,431 C487.83,431.63 490.33,433.9 492,434.8 C493.67,435.7 496.17,436.13 497,436.4" fill="none" stroke="#000" stroke-width="1.6" />
<path d="M461,401.5 L460.6,404.4" fill="none" stroke="#000" stroke-width="1.1" />
<path d="M497.5,436.7 L508,446.6" fill="none" stroke="#000" stroke-width="2.4" stroke-linecap="butt"/>
<path d="M497.5,436.7 L508,446.6" fill="none" stroke="#fff" stroke-width="0.5" stroke-linecap="butt"/>
<rect x="-2.8" y="-4" width="5.6" height="8" rx="1.6" transform="translate(510.4,450.5) rotate(-14)" fill="#fff" stroke="#000" stroke-width="1.2"/>
<path d="M495,463.75 L495,469.6 L460.5,484.25 L456.75,476.3" fill="none" stroke="#000" stroke-width="1.2" />
<line x1="480" y1="478.25" x2="481.5" y2="484.25" stroke="#000" stroke-width="1.2"/>
<line x1="491.25" y1="449.4" x2="488.75" y2="436.9" stroke="#000" stroke-width="1.2"/>
<path d="M339.6,454.0 L348.4,456.0 C351,457.4 350.6,462.6 347.6,463.7 L338.6,460.9Z" fill="#fff" stroke="#000" stroke-width="1.3" />
<line x1="343.2" y1="454.9" x2="341.6" y2="461.6" stroke="#000" stroke-width="1.1"/>
<line x1="345.8" y1="455.6" x2="344.4" y2="462.6" stroke="#000" stroke-width="1.1"/>
<path d="M321.75,453.6 C321.68,452.41 322.77,449.41 323.4,448.5 C324.03,447.59 326.27,445.68 327.4,445.4 C328.53,445.12 332.36,445.74 333.6,446 C334.84,446.26 337.92,447.04 338.6,447.7 C339.28,448.36 339.75,450.69 339.75,451.9 C339.75,453.11 339.04,457.36 338.6,458.6 C338.16,459.84 336.67,462.53 335.8,463.1 C334.93,463.67 332.06,464.13 330.75,463.7 C329.44,463.27 325,460.32 324,459.2 C323,458.08 321.82,454.79 321.75,453.6Z" fill="#fff" stroke="#000" stroke-width="1.4" />
<path d="M336.4,446.9 C333.6,451 332.4,458 333.6,463.4" fill="none" stroke="#000" stroke-width="1.2" />
<path d="M328.5,447.1 L335.8,450.5 L333.6,457.5 L326.3,458.1 L322.6,453.8" fill="none" stroke="#000" stroke-width="1.1" />
<path d="M328.5,447.1 L324.6,450 L322.6,453.8" fill="none" stroke="#000" stroke-width="1" />
<path d="M326.3,458.1 L327.6,460.8 L332.6,462" fill="none" stroke="#000" stroke-width="1" />
<path d="M333.6,457.5 L332.8,461.8" fill="none" stroke="#000" stroke-width="1" />
<path d="M363.1,471.5 L360.6,480.6 L368.1,484.4 L370.2,476.25Z" fill="#fff" stroke="#000" stroke-width="1.3" />
<path d="M371.2,478 L370,485 L373.1,485.9 L374.2,479.6Z" fill="#fff" stroke="#000" stroke-width="1.2" />
<path d="M374.8,479 L374.4,484.2 L376.4,484.4 L377,478.4Z" fill="#fff" stroke="#000" stroke-width="1.1" />
<path d="M365,456.6 L371.9,461.25 L369.4,472.5 L361.25,468.1Z" fill="#fff" stroke="#000" stroke-width="1.45" />
<path d="M365.4,457 C366.6,458.6 368.6,459 369.2,457.6" fill="none" stroke="#000" stroke-width="1" />
<path d="M378.6,458.2 C382.6,458.4 385.4,462.6 384.8,467.4 C384,472.6 381.6,476 378.4,476.6" fill="#fff" stroke="#000" stroke-width="1.5" />
<path d="M373.1,461.9 C374,459.4 376.2,458.2 378.4,457.8 C380.4,457.8 381.6,460.4 381.9,465.6 C381.8,469.6 380.8,472.4 378.6,474.4 C376.6,476 374,476.8 371,476.4 C370.6,472 371.6,466 373.1,461.9Z" fill="#fff" stroke="#000" stroke-width="1.4" />
<ellipse cx="378.6" cy="457.9" rx="1.4" ry="1" transform="rotate(0 378.6 457.9)" fill="#fff" stroke="#000" stroke-width="1.2"/>
<ellipse cx="374.7" cy="469.4" rx="1.6" ry="2" transform="rotate(15 374.7 469.4)" fill="#fff" stroke="#000" stroke-width="1.7"/>
<path d="M403.4,470.2 L406,473 L409.5,473.5 L411.25,476.5 L410,482 L407,487 L403,486.5 L400,487Z" fill="#fff" stroke="#000" stroke-width="1.3" />
<path d="M406,473 L407.4,478.4 L405.6,484.6 L407,487" fill="none" stroke="#000" stroke-width="1" />
<path d="M407.4,478.4 L410.8,479" fill="none" stroke="#000" stroke-width="1" />
<ellipse cx="400.2" cy="478.4" rx="4.6" ry="9.6" transform="rotate(19 400.2 478.4)" fill="#000" stroke="#000" stroke-width="1"/>
<ellipse cx="399.2" cy="478.3" rx="4.6" ry="9.6" transform="rotate(19 399.2 478.3)" fill="#fff" stroke="#000" stroke-width="1.35"/>
<ellipse cx="399" cy="477.6" rx="1.6" ry="3.1" transform="rotate(19 399 477.6)" fill="#fff" stroke="#000" stroke-width="1.5"/>
<path d="M352.2,507 C353.03,506.94 355.04,507.2 355.8,507.6 C356.56,508 356.83,506.96 357.5,509.8 C358.17,512.64 360.24,523.47 360.5,527.5 C360.76,531.53 360.01,535.9 359.3,538 C358.59,540.1 356.49,541.57 355.5,542.2 C354.51,542.83 355.39,543.31 352.4,542.4 C349.41,541.49 337.39,537.36 334.6,535.8 C331.81,534.24 332.95,533.33 332.9,531.5 C332.85,529.67 333.66,524.79 334.25,523 C334.84,521.21 334.75,521.14 337,519 C339.25,516.86 347.83,509.71 350,508 C352.17,506.29 351.37,507.06 352.2,507Z" fill="#fff" stroke="#000" stroke-width="1.25" />
<path d="M333.2,532.6 C333.5,533.3 331.77,535 335,536.8 C338.23,538.6 349.1,542.37 352.6,543.4 C356.1,544.43 355.43,543.07 356,543" fill="none" stroke="#000" stroke-width="1" />
<ellipse cx="351.8" cy="512.6" rx="1.5" ry="2.6" transform="rotate(25 351.8 512.6)" fill="none" stroke="#000" stroke-width="1.35"/>
<ellipse cx="338.8" cy="526.6" rx="1.8" ry="3.2" transform="rotate(25 338.8 526.6)" fill="none" stroke="#000" stroke-width="1.4"/>
<ellipse cx="353.3" cy="532.2" rx="1.9" ry="3.3" transform="rotate(25 353.3 532.2)" fill="none" stroke="#000" stroke-width="1.4"/>
<path d="M366.6,501.2 C367.58,502.5 370.64,506.12 372.5,509 C374.36,511.88 376.33,515.5 377.75,518.5 C379.17,521.5 380.07,524.25 381,527 C381.93,529.75 382.7,532 383.3,535 C383.9,538 384.32,542 384.6,545 C384.88,548 385,550.83 385,553 C385,555.17 384.67,557.17 384.6,558" fill="none" stroke="#000" stroke-width="10.7" stroke-linecap="round"/>
<path d="M366.6,501.2 C367.58,502.5 370.64,506.12 372.5,509 C374.36,511.88 376.33,515.5 377.75,518.5 C379.17,521.5 380.07,524.25 381,527 C381.93,529.75 382.7,532 383.3,535 C383.9,538 384.32,542 384.6,545 C384.88,548 385,550.83 385,553 C385,555.17 384.67,557.17 384.6,558" fill="none" stroke="#fff" stroke-width="8.2" stroke-linecap="round"/>
<line x1="374.4" y1="503.63" x2="371.1" y2="508.14" stroke="#000" stroke-width="0.85"/>
<line x1="375.91" y1="505.63" x2="372.61" y2="510.14" stroke="#000" stroke-width="0.85"/>
<line x1="377.49" y1="508.2" x2="373.58" y2="512.19" stroke="#000" stroke-width="0.85"/>
<line x1="378.59" y1="510.2" x2="374.68" y2="514.19" stroke="#000" stroke-width="0.85"/>
<line x1="379.7" y1="512.2" x2="375.79" y2="516.19" stroke="#000" stroke-width="0.85"/>
<line x1="380.8" y1="514.2" x2="376.89" y2="518.19" stroke="#000" stroke-width="0.85"/>
<line x1="381.91" y1="516.2" x2="378" y2="520.19" stroke="#000" stroke-width="0.85"/>
<line x1="382.95" y1="518.8" x2="378.53" y2="522.21" stroke="#000" stroke-width="0.85"/>
<line x1="383.72" y1="520.8" x2="379.29" y2="524.21" stroke="#000" stroke-width="0.85"/>
<line x1="384.48" y1="522.8" x2="380.06" y2="526.21" stroke="#000" stroke-width="0.85"/>
<line x1="385.25" y1="524.8" x2="380.82" y2="528.21" stroke="#000" stroke-width="0.85"/>
<line x1="386" y1="527.19" x2="381.3" y2="530.2" stroke="#000" stroke-width="0.85"/>
<line x1="386.57" y1="529.19" x2="381.87" y2="532.2" stroke="#000" stroke-width="0.85"/>
<line x1="387.15" y1="531.19" x2="382.45" y2="534.2" stroke="#000" stroke-width="0.85"/>
<line x1="387.72" y1="533.19" x2="383.02" y2="536.2" stroke="#000" stroke-width="0.85"/>
<path d="M374.4,503.63 C374.65,503.97 375.4,504.87 375.91,505.63 C376.42,506.4 377.04,507.44 377.49,508.2 C377.93,508.96 378.22,509.54 378.59,510.2 C378.96,510.87 379.33,511.54 379.7,512.2 C380.07,512.87 380.43,513.54 380.8,514.2 C381.17,514.87 381.55,515.44 381.91,516.2 C382.27,516.97 382.65,518.04 382.95,518.8 C383.25,519.57 383.46,520.14 383.72,520.8 C383.97,521.47 384.23,522.14 384.48,522.8 C384.74,523.47 384.99,524.07 385.25,524.8 C385.5,525.53 385.78,526.46 386,527.19 C386.22,527.92 386.38,528.52 386.57,529.19 C386.76,529.85 386.95,530.52 387.15,531.19 C387.34,531.85 387.63,532.85 387.72,533.19" fill="none" stroke="#000" stroke-width="2" />
<path d="M378.6,553.5 L390.2,556.3 L389.6,560.2 L377.8,557.5Z" fill="#fff" stroke="#000" stroke-width="1.2" />
<path d="M378.6,558 L388.6,560.2 L382.6,584.5 L374.6,582.6Z" fill="#fff" stroke="#000" stroke-width="1.2" />
<line x1="384.4" y1="562.5" x2="381" y2="580" stroke="#000" stroke-width="1.9"/>
<line x1="380.5" y1="561" x2="377.5" y2="581" stroke="#000" stroke-width="0.9"/>
<path d="M369.2,582.2 L386,586 L385.2,592.4 L381.6,592.6 L368,589Z" fill="#fff" stroke="#000" stroke-width="1.2" />
<line x1="368.2" y1="586.4" x2="385.4" y2="590.4" stroke="#000" stroke-width="1"/>
<line x1="374" y1="584.6" x2="381" y2="586.2" stroke="#000" stroke-width="1.8"/>
<path d="M416.4,532.2 L422,531.8 L430.5,526.5 L438.5,533.3 L438.5,535.9 L428.75,540.4 L416.4,534.4Z" fill="#fff" stroke="#000" stroke-width="1.3" />
<path d="M416.6,533.4 L428.6,539.4 L438.3,534.8" fill="none" stroke="#000" stroke-width="1.8" />
<path d="M422.6,534 L429,537 L437.4,533.2 L432.5,529.6 L424,532.6Z" fill="#fff" stroke="#000" stroke-width="0.9" />
<path d="M417,532.6 L421.5,534.6" fill="none" stroke="#000" stroke-width="1.8" />
<path d="M430.6,525.6 L447.4,515.9 L450.2,517.8 L450.2,523.9 L439.4,529.9 L433,529Z" fill="#fff" stroke="#000" stroke-width="1.5" />
<path d="M431,527.2 L447.6,517.6 L450,518.4" fill="none" stroke="#000" stroke-width="1" />
<ellipse cx="438.1" cy="527.1" rx="1.9" ry="1.9" transform="rotate(0 438.1 527.1)" fill="#fff" stroke="#000" stroke-width="1.2"/>
<path d="M444.5,527.4 L454.25,522.5 L457.6,523.4 L457.6,527.6 L449.75,532.5 L444.5,530Z" fill="#000" stroke="#000" stroke-width="1.2" />
<path d="M450.2,529.6 L456.4,526" fill="none" stroke="#fff" stroke-width="1.3" />
<path d="M446.3,527.8 L453.6,524.1" fill="none" stroke="#fff" stroke-width="0.7" />
<path d="M459.25,539.1 L470.5,532.4" fill="none" stroke="#000" stroke-width="5.2" stroke-linecap="butt"/>
<path d="M459.25,539.1 L470.5,532.4" fill="none" stroke="#fff" stroke-width="2.8" stroke-linecap="butt"/>
<line x1="457.4" y1="535.8" x2="461.2" y2="542.4" stroke="#000" stroke-width="1.4"/>
<path d="M468.4,531.2 L479.6,524.6 L482.2,529.6 L471.2,536.4Z" fill="#fff" stroke="#000" stroke-width="1.2" />
<ellipse cx="480.6" cy="527.3" rx="2.6" ry="4.8" transform="rotate(-30 480.6 527.3)" fill="#fff" stroke="#000" stroke-width="1.3"/>
<ellipse cx="472.4" cy="532.3" rx="2" ry="3.8" transform="rotate(-30 472.4 532.3)" fill="#fff" stroke="#000" stroke-width="1.1"/>
<path d="M482.5,526 L490,521.5" fill="none" stroke="#000" stroke-width="3" stroke-linecap="butt"/>
<path d="M482.5,526 L490,521.5" fill="none" stroke="#fff" stroke-width="1" stroke-linecap="butt"/>
<ellipse cx="492.8" cy="519.8" rx="3" ry="3.6" transform="rotate(-30 492.8 519.8)" fill="#fff" stroke="#000" stroke-width="1.3"/>
<ellipse cx="495.2" cy="518.4" rx="2.2" ry="3" transform="rotate(-30 495.2 518.4)" fill="#fff" stroke="#000" stroke-width="1.2"/>
<path d="M497,517.3 L506,512" fill="none" stroke="#000" stroke-width="2.2" stroke-linecap="butt"/>
<path d="M497,517.3 L506,512" fill="none" stroke="#fff" stroke-width="0.5" stroke-linecap="butt"/>
<rect x="-4" y="-2.4" width="8" height="4.8" rx="1" transform="translate(509.4,510.4) rotate(-30)" fill="#fff" stroke="#000" stroke-width="1.2"/>
<line x1="513" y1="508.2" x2="517" y2="506" stroke="#000" stroke-width="1.4"/>
<line x1="516" y1="506.3" x2="544" y2="489.6" stroke="#000" stroke-width="3.9"/>
<line x1="516" y1="506.3" x2="544" y2="489.6" stroke="#fff" stroke-width="0.9" stroke-dasharray="0.5 1.4" stroke-linecap="butt"/>
<ellipse cx="552.6" cy="484.9" rx="3" ry="4.5" transform="rotate(-28 552.6 484.9)" fill="#000" stroke="#000" stroke-width="1.2"/>
<ellipse cx="552.6" cy="484.8" rx="0.6" ry="1.1" transform="rotate(-28 552.6 484.8)" fill="#fff" stroke="#000" stroke-width="0.3"/>
<line x1="560.4" y1="479.2" x2="606.0" y2="457.2" stroke="#000" stroke-width="6.4" stroke-linecap="round"/>
<line x1="562.6" y1="478.15" x2="607" y2="456.7" stroke="#fff" stroke-width="3.9" stroke-dasharray="0.65 0.95" stroke-linecap="butt"/>
<ellipse cx="560.6" cy="479.2" rx="1.9" ry="2.7" transform="rotate(-26 560.6 479.2)" fill="#fff" stroke="#000" stroke-width="1.1"/>
<path d="M609.8,446.7 L621.9,453.4" fill="none" stroke="#000" stroke-width="8.8" stroke-linecap="butt"/>
<path d="M609.8,446.7 L621.9,453.4" fill="none" stroke="#fff" stroke-width="6.2" stroke-linecap="butt"/>
<ellipse cx="621.9" cy="453.4" rx="2.82" ry="4.3" transform="rotate(28.97 621.9 453.4)" fill="#fff" stroke="#000" stroke-width="1.25"/>
<path d="M607.98,449.98 C605.21,448.45 608.85,441.88 611.62,443.42" fill="#fff" stroke="#000" stroke-width="1.3" />
<path d="M611.5,452.4 L611.5,451 C611.6,449.8 613.6,449.8 613.7,451 L613.7,452.4" fill="none" stroke="#000" stroke-width="1.1" />
<path d="M626.25,433.3 L630.6,431.25 L635,431.6 L638.75,435.6 L640.9,440.6 L640,445 L635.6,448.4 L631.25,447.5 L627,444Z" fill="#fff" stroke="#000" stroke-width="1.5" />
<path d="M630.6,431.6 C634.6,434 637.4,440 635.8,448" fill="none" stroke="#000" stroke-width="1.2" />
<path d="M627.4,434.2 C631.6,434.6 635,439.6 633.6,446" fill="none" stroke="#000" stroke-width="1.1" />
<path d="M635,431.8 L636.4,435.6 L638.6,435.8" fill="none" stroke="#000" stroke-width="1" />
<path d="M637,441.4 L640.6,441" fill="none" stroke="#000" stroke-width="1" />
<ellipse cx="626.6" cy="443.4" rx="3.2" ry="4.2" transform="rotate(-20 626.6 443.4)" fill="#fff" stroke="#000" stroke-width="1.7"/>
<ellipse cx="626.2" cy="443.8" rx="1.2" ry="1.7" transform="rotate(-20 626.2 443.8)" fill="#fff" stroke="#000" stroke-width="1.2"/>
<path d="M629,438.4 C631.6,439.6 632.4,443.6 631,447" fill="none" stroke="#000" stroke-width="1.3" />
<path d="M308.5,607.2 L305.6,609" fill="none" stroke="#000" stroke-width="3.6" stroke-linecap="butt"/>
<path d="M308.5,607.2 L305.6,609" fill="none" stroke="#fff" stroke-width="1.4" stroke-linecap="butt"/>
<rect x="-3.8" y="-2.9" width="7.6" height="5.8" rx="1.2" transform="translate(302.5,610.7) rotate(-32)" fill="#fff" stroke="#000" stroke-width="1.3"/>
<line x1="300.2" y1="610.4" x2="304.6" y2="609.6" stroke="#000" stroke-width="0.8"/>
<path d="M299.4,612.6 L295.6,614.8" fill="none" stroke="#000" stroke-width="3.4" stroke-linecap="butt"/>
<path d="M299.4,612.6 L295.6,614.8" fill="none" stroke="#fff" stroke-width="1" stroke-linecap="butt"/>
<ellipse cx="294" cy="615.8" rx="2.6" ry="4.2" transform="rotate(-28 294 615.8)" fill="#fff" stroke="#000" stroke-width="1.3"/>
<ellipse cx="290.6" cy="617.6" rx="3" ry="4.8" transform="rotate(-28 290.6 617.6)" fill="#fff" stroke="#000" stroke-width="1.4"/>
<ellipse cx="287.2" cy="619.4" rx="2.6" ry="4.2" transform="rotate(-28 287.2 619.4)" fill="#fff" stroke="#000" stroke-width="1.3"/>
<path d="M285.2,618.2 L276.4,622.4 L274.4,625.6 L276,629 L279.4,629.2 L288.4,624.6Z" fill="#fff" stroke="#000" stroke-width="1.3" />
<line x1="276.6" y1="625.6" x2="287" y2="620.6" stroke="#000" stroke-width="1"/>
<line x1="273.8" y1="626.1" x2="253.2" y2="637" stroke="#000" stroke-width="3.9"/>
<line x1="273.8" y1="626.1" x2="253.2" y2="637.0" stroke="#fff" stroke-width="0.9" stroke-dasharray="0.5 1.4" stroke-linecap="butt"/>
<path d="M235.4,642 L247.5,648.4" fill="none" stroke="#000" stroke-width="8.8" stroke-linecap="butt"/>
<path d="M235.4,642 L247.5,648.4" fill="none" stroke="#fff" stroke-width="6.2" stroke-linecap="butt"/>
<ellipse cx="247.5" cy="648.4" rx="2.82" ry="4.3" transform="rotate(27.88 247.5 648.4)" fill="#fff" stroke="#000" stroke-width="1.25"/>
<path d="M233.65,645.31 C230.85,643.83 234.35,637.2 237.15,638.69" fill="#fff" stroke="#000" stroke-width="1.3" />
<path d="M237.5,647.5 L237.5,646.1 C237.6,644.9 239.6,644.9 239.7,646.1 L239.7,647.5" fill="none" stroke="#000" stroke-width="1.1" />
<path d="M227.5,648.1 L231.25,649 L232.5,652.5 L231.25,657.5 L228.75,660.6 L225,661.6Z" fill="#fff" stroke="#000" stroke-width="1.3" />
<line x1="229.6" y1="649.4" x2="230.4" y2="654.2" stroke="#000" stroke-width="1"/>
<line x1="230.4" y1="654.2" x2="228.6" y2="659.8" stroke="#000" stroke-width="1"/>
<path d="M226.4,648.8 C229,651 229.6,657 227.4,661" fill="none" stroke="#000" stroke-width="1.2" />
<ellipse cx="223" cy="655" rx="5.3" ry="5.9" transform="rotate(-20 223 655)" fill="#fff" stroke="#000" stroke-width="1.5"/>
<ellipse cx="222.9" cy="655.3" rx="2.1" ry="2.4" transform="rotate(-20 222.9 655.3)" fill="#fff" stroke="#000" stroke-width="1.7"/>
<path d="M218.4,658 C219.6,661.2 223.4,662.4 226.6,661.2" fill="none" stroke="#000" stroke-width="1.6" />
<ellipse cx="333.2" cy="660.9" rx="3.2" ry="2.3" transform="rotate(-28 333.2 660.9)" fill="#fff" stroke="#000" stroke-width="1.3"/>
<line x1="336.2" y1="659.2" x2="342.4" y2="655.4" stroke="#000" stroke-width="1.5"/>
<ellipse cx="344.4" cy="654.3" rx="2" ry="1.9" transform="rotate(-25 344.4 654.3)" fill="#fff" stroke="#000" stroke-width="1.3"/>
<path d="M358.4,640.4 L350.2,645.2 C346.6,647.6 350.6,656.6 354.6,655.4 L364.2,650.2Z" fill="#fff" stroke="#000" stroke-width="1.25" />
<ellipse cx="352.2" cy="650.7" rx="2.7" ry="4.6" transform="rotate(-30 352.2 650.7)" fill="#fff" stroke="#000" stroke-width="1.6"/>
<ellipse cx="352.2" cy="650.7" rx="1.2" ry="2.5" transform="rotate(-30 352.2 650.7)" fill="none" stroke="#000" stroke-width="1"/>
<path d="M358.3,637.9 L386.3,622.1 C394.5,619.8 398.8,632.2 394.5,635.9 L366.4,651.7 C358.4,652.4 354.2,640.2 358.3,637.9Z" fill="#fff" stroke="#000" stroke-width="1.3" />
<path d="M358.3,637.9 C362.4,636.6 367.6,646 366.4,651.7" fill="none" stroke="#000" stroke-width="1.2" />
<path d="M401.4,623.1 L433.2,605" fill="none" stroke="#000" stroke-width="5.8" stroke-linecap="round"/>
<path d="M401.4,623.1 L433.2,605" fill="none" stroke="#fff" stroke-width="3.3" stroke-linecap="round"/>
<ellipse cx="400.6" cy="623.5" rx="2.4" ry="2.9" transform="rotate(-30 400.6 623.5)" fill="#fff" stroke="#000" stroke-width="1.3"/>
<path d="M403,608.6 L425,595.1 L428.2,595.8 L428.2,603.4 L425.8,605 L426,612.6 L405.6,624.6 L403.6,622.4 L405.8,618.8 L403.4,616Z" fill="#fff" stroke="#000" stroke-width="1.4" />
<path d="M403.2,610 L406.6,610.2 L426.6,598.4 L428,596.2" fill="none" stroke="#000" stroke-width="1.1" />
<line x1="409.6" y1="608.3" x2="424" y2="600.9" stroke="#000" stroke-width="2.6"/>
<path d="M411,607.6 L422.6,601.6" fill="none" stroke="#fff" stroke-width="0.5" />
<path d="M406.6,610.4 L407.4,615.8" fill="none" stroke="#000" stroke-width="1.1" />
<line x1="407.4" y1="615.7" x2="425.8" y2="605.2" stroke="#000" stroke-width="1.7"/>
<line x1="408.4" y1="620.8" x2="424.8" y2="611.4" stroke="#000" stroke-width="1.8"/>
<line x1="409.6" y1="618.2" x2="423.4" y2="610.2" stroke="#000" stroke-width="1"/>
<path d="M408.6,617.4 L408.2,621.4" fill="none" stroke="#000" stroke-width="1.2" />
<path d="M423.6,609 L424.6,611.6" fill="none" stroke="#000" stroke-width="1.2" />
<rect x="-3.8" y="-1.9" width="7.6" height="3.8" rx="1.6" transform="translate(460.4,589.2) rotate(-30)" fill="#fff" stroke="#000" stroke-width="1.1"/>
<line x1="456.6" y1="591.6" x2="444.4" y2="598.2" stroke="#000" stroke-width="1.5"/>
<rect x="-3" y="-2.2" width="6" height="4.4" rx="1.6" transform="translate(440.6,600.4) rotate(-30)" fill="#fff" stroke="#000" stroke-width="1.2"/>
<rect x="-2.3" y="-4.2" width="4.6" height="8.4" rx="1.6" transform="translate(554.6,663.5) rotate(-11)" fill="#fff" stroke="#000" stroke-width="1.2"/>
<line x1="555.3" y1="668" x2="557.6" y2="681.5" stroke="#000" stroke-width="1.9"/>
<ellipse cx="557.8" cy="683.2" rx="1.6" ry="1.6" transform="rotate(0 557.8 683.2)" fill="#000" stroke="#000" stroke-width="0.8"/>
<line x1="539" y1="575.5" x2="539.7" y2="579.5" stroke="#000" stroke-width="2.6"/>
<path d="M199.3,713.3 L209.5,694.25 L211.75,698 L229.3,689 L230.8,691.25 L230.8,704 L212.5,715.25 L211.75,721.25Z" fill="#fff" stroke="#000" stroke-width="1.3" />
<path d="M199.5,713.2 L209.6,694.6" fill="none" stroke="#000" stroke-width="2" />
<path d="M202.6,712.4 L211.2,696.4" fill="none" stroke="#000" stroke-width="0.9" />
<path d="M212.8,700.25 L229.3,691.4 L229.3,703.4 L212.8,713.6Z" fill="none" stroke="#000" stroke-width="1.15" />
<path d="M199.5,713.4 L211.7,721.2" fill="none" stroke="#000" stroke-width="1.6" />
<text x="0" y="0" font-size="10.6" font-weight="bold" font-style="italic" transform="translate(212.6,712) rotate(-30) skewX(-4)" style="stroke:#000;stroke-width:0.45px" textLength="18.4" lengthAdjust="spacingAndGlyphs">FWD</text>
<text x="179.6" y="743.2" font-size="9.7" textLength="75.4" lengthAdjust="spacingAndGlyphs" style="stroke:#000;stroke-width:0.45px">3FC20I0-0220</text>
<line x1="405.05" y1="299.58" x2="405.05" y2="308.42" stroke="#000" stroke-width="1.8" stroke-linecap="butt"/>
<text transform="translate(334.96,425.47) scale(1.14,1)" font-size="11.8" class="lb">2</text>
<text transform="translate(408.46,449.72) scale(1.14,1)" font-size="11.8" class="lb">3</text>
<text transform="translate(348.96,579.72) scale(1.14,1)" font-size="11.8" class="lb">4</text>
<text transform="translate(339.46,609.22) scale(1.14,1)" font-size="11.8" class="lb">5</text>
<text transform="translate(574.76,353.97) scale(1.14,1)" font-size="11.8" class="lb">6</text>
<text transform="translate(261.01,135.42) scale(1.14,1)" font-size="11.8" class="lb">7</text>
<text transform="translate(304.96,179.97) scale(1.14,1)" font-size="11.8" class="lb">8</text>
<text transform="translate(221.76,503.72) scale(1.14,1)" font-size="11.8" class="lb">9</text>
<line x1="471.41" y1="612.88" x2="471.41" y2="621.72" stroke="#000" stroke-width="1.8" stroke-linecap="butt"/>
<text transform="translate(473.86,621.52) scale(1.14,1)" font-size="11.8" class="lb">0</text>
<line x1="435.95" y1="634.28" x2="435.95" y2="643.12" stroke="#000" stroke-width="1.8" stroke-linecap="butt"/>
<line x1="444.65" y1="634.28" x2="444.65" y2="643.12" stroke="#000" stroke-width="1.8" stroke-linecap="butt"/>
<line x1="398.21" y1="655.18" x2="398.21" y2="664.02" stroke="#000" stroke-width="1.8" stroke-linecap="butt"/>
<text transform="translate(400.66,663.82) scale(1.14,1)" font-size="11.8" class="lb">2</text>
<line x1="233.51" y1="321.38" x2="233.51" y2="330.22" stroke="#000" stroke-width="1.8" stroke-linecap="butt"/>
<text transform="translate(235.96,330.02) scale(1.14,1)" font-size="11.8" class="lb">3</text>
<line x1="161.16" y1="280.38" x2="161.16" y2="289.22" stroke="#000" stroke-width="1.8" stroke-linecap="butt"/>
<text transform="translate(163.61,289.02) scale(1.14,1)" font-size="11.8" class="lb">4</text>
<line x1="189.41" y1="262.48" x2="189.41" y2="271.32" stroke="#000" stroke-width="1.8" stroke-linecap="butt"/>
<text transform="translate(191.86,271.12) scale(1.14,1)" font-size="11.8" class="lb">5</text>
<line x1="200.21" y1="623.58" x2="200.21" y2="632.42" stroke="#000" stroke-width="1.8" stroke-linecap="butt"/>
<text transform="translate(202.66,632.22) scale(1.14,1)" font-size="11.8" class="lb">6</text>
<line x1="221.41" y1="613.78" x2="221.41" y2="622.62" stroke="#000" stroke-width="1.8" stroke-linecap="butt"/>
<text transform="translate(223.86,622.42) scale(1.14,1)" font-size="11.8" class="lb">7</text>
<line x1="480.11" y1="485.58" x2="480.11" y2="494.42" stroke="#000" stroke-width="1.8" stroke-linecap="butt"/>
<text transform="translate(482.56,494.22) scale(1.14,1)" font-size="11.8" class="lb">8</text>
<line x1="488.91" y1="450.58" x2="488.91" y2="459.42" stroke="#000" stroke-width="1.8" stroke-linecap="butt"/>
<text transform="translate(491.36,459.22) scale(1.14,1)" font-size="11.8" class="lb">9</text>
<text transform="translate(433.17,505.22) scale(1.14,1)" font-size="11.8" class="lb">2</text>
<text transform="translate(440.95,505.22) scale(1.14,1)" font-size="11.8" class="lb">0</text>
<text transform="translate(526.16,465.22) scale(1.14,1)" font-size="11.8" class="lb">2</text>
<line x1="535.69" y1="456.58" x2="535.69" y2="465.42" stroke="#000" stroke-width="1.8" stroke-linecap="butt"/>
<text transform="translate(552.87,448.42) scale(1.14,1)" font-size="11.8" class="lb">2</text>
<text transform="translate(560.65,448.42) scale(1.14,1)" font-size="11.8" class="lb">2</text>
<text transform="translate(605.37,420.22) scale(1.14,1)" font-size="11.8" class="lb">2</text>
<text transform="translate(613.15,420.22) scale(1.14,1)" font-size="11.8" class="lb">3</text>
<text transform="translate(584.87,431.22) scale(1.14,1)" font-size="11.8" class="lb">2</text>
<text transform="translate(592.65,431.22) scale(1.14,1)" font-size="11.8" class="lb">4</text>
<line x1="400.6" y1="308.75" x2="382.5" y2="325" stroke="#000" stroke-width="1.15"/>
<line x1="339.75" y1="427.25" x2="345.75" y2="455" stroke="#000" stroke-width="1.15"/>
<line x1="410.25" y1="453.5" x2="404.25" y2="470" stroke="#000" stroke-width="1.15"/>
<line x1="338.75" y1="540.25" x2="349.25" y2="569.5" stroke="#000" stroke-width="1.15"/>
<line x1="350" y1="600.25" x2="368" y2="587.5" stroke="#000" stroke-width="1.15"/>
<line x1="576.7" y1="357.25" x2="565" y2="377.5" stroke="#000" stroke-width="1.15"/>
<line x1="259.5" y1="133.75" x2="235.5" y2="142" stroke="#000" stroke-width="1.15"/>
<line x1="303" y1="180.25" x2="279.75" y2="191.5" stroke="#000" stroke-width="1.15"/>
<line x1="232.5" y1="498" x2="255" y2="494" stroke="#000" stroke-width="1.15"/>
<line x1="456.5" y1="593.5" x2="470" y2="606.5" stroke="#000" stroke-width="1.15"/>
<line x1="419" y1="618.5" x2="434.5" y2="631.5" stroke="#000" stroke-width="1.15"/>
<line x1="395.6" y1="652.2" x2="382.5" y2="642.8" stroke="#000" stroke-width="1.15"/>
<line x1="233.75" y1="333.75" x2="220.25" y2="352.5" stroke="#000" stroke-width="1.15"/>
<line x1="229.4" y1="625.3" x2="235" y2="637.5" stroke="#000" stroke-width="1.15"/>
<line x1="209.7" y1="634.7" x2="221" y2="648.75" stroke="#000" stroke-width="1.15"/>
<line x1="438.1" y1="508.4" x2="435.5" y2="521.9" stroke="#000" stroke-width="1.15"/>
<line x1="616" y1="422.5" x2="626.5" y2="436" stroke="#000" stroke-width="1.15"/>
<line x1="597.25" y1="433.75" x2="608.5" y2="444.25" stroke="#000" stroke-width="1.15"/>
<line x1="536" y1="467.5" x2="551" y2="482.5" stroke="#000" stroke-width="1.15"/>
<line x1="565" y1="451" x2="582.5" y2="465" stroke="#000" stroke-width="1.15"/>
</g>
<defs><filter id="bl" filterUnits="userSpaceOnUse" x="0" y="0" width="800" height="800"><feGaussianBlur stdDeviation="0.35"/></filter></defs>
</svg>
</body></html>
